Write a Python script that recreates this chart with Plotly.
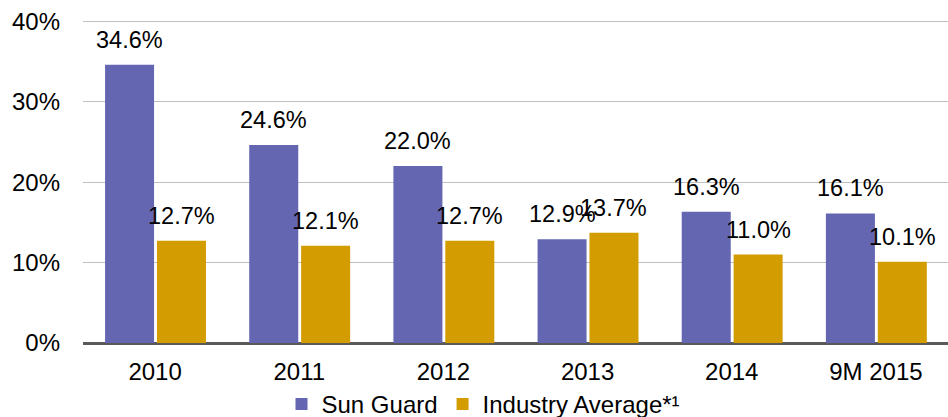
import plotly.graph_objects as go

categories = ["2010", "2011", "2012", "2013", "2014", "9M 2015"]
sun_guard = [34.6, 24.6, 22.0, 12.9, 16.3, 16.1]
industry_avg = [12.7, 12.1, 12.7, 13.7, 11.0, 10.1]
y_ticks = [0, 10, 20, 30, 40]

PURPLE = "#6466B2"
GOLD = "#D39C00"
FONT = "Liberation Sans, Arial, sans-serif"
W = 0.34
OFF_A = -0.347
OFF_B = 0.013

xs = list(range(len(categories)))

fig = go.Figure()
fig.add_trace(go.Bar(
    x=xs, y=sun_guard, name="Sun Guard", width=W, offset=OFF_A,
    marker=dict(color=PURPLE, line=dict(width=0)),
))
fig.add_trace(go.Bar(
    x=xs, y=industry_avg, name="Industry Average*¹", width=W, offset=OFF_B,
    marker=dict(color=GOLD, line=dict(width=0)),
))

annotations = []
for series, off in ((sun_guard, OFF_A), (industry_avg, OFF_B)):
    for i, v in enumerate(series):
        annotations.append(dict(
            x=i + off + W / 2, y=v, xref="x", yref="y",
            text=f"{v:.1f}%", showarrow=False, yanchor="bottom",
            yshift=10, font=dict(family=FONT, size=23.5, color="#000000"),
        ))

fig.update_layout(
    width=948, height=417,
    margin=dict(l=83, r=0, t=20, b=74),
    paper_bgcolor="white", plot_bgcolor="white",
    font=dict(family=FONT, size=24, color="#000000"),
    barmode="overlay",
    showlegend=True,
    legend=dict(
        orientation="h", x=0.463, xanchor="center",
        yref="container", y=0.03, yanchor="middle",
        font=dict(family=FONT, size=24, color="#000000"),
    ),
    annotations=annotations,
    xaxis=dict(
        range=[-0.5, len(categories) - 0.5],
        tickmode="array", tickvals=xs, ticktext=categories,
        showgrid=False, zeroline=False, showline=False,
        ticks="", ticklabelstandoff=12, automargin=False,
    ),
    yaxis=dict(
        range=[0, 40.15], tickmode="array", tickvals=y_ticks,
        ticktext=[f"{t}%" for t in y_ticks],
        showgrid=True, gridcolor="#BFBFBF", gridwidth=1,
        zeroline=True, zerolinecolor="#595959", zerolinewidth=2.5,
        showline=False, ticks="", ticklabelstandoff=22, automargin=False,
    ),
)

fig.write_html(
    "out.html",
    config={"displayModeBar": False},
    post_script="document.body.style.margin='0';document.body.style.padding='0';",
)
